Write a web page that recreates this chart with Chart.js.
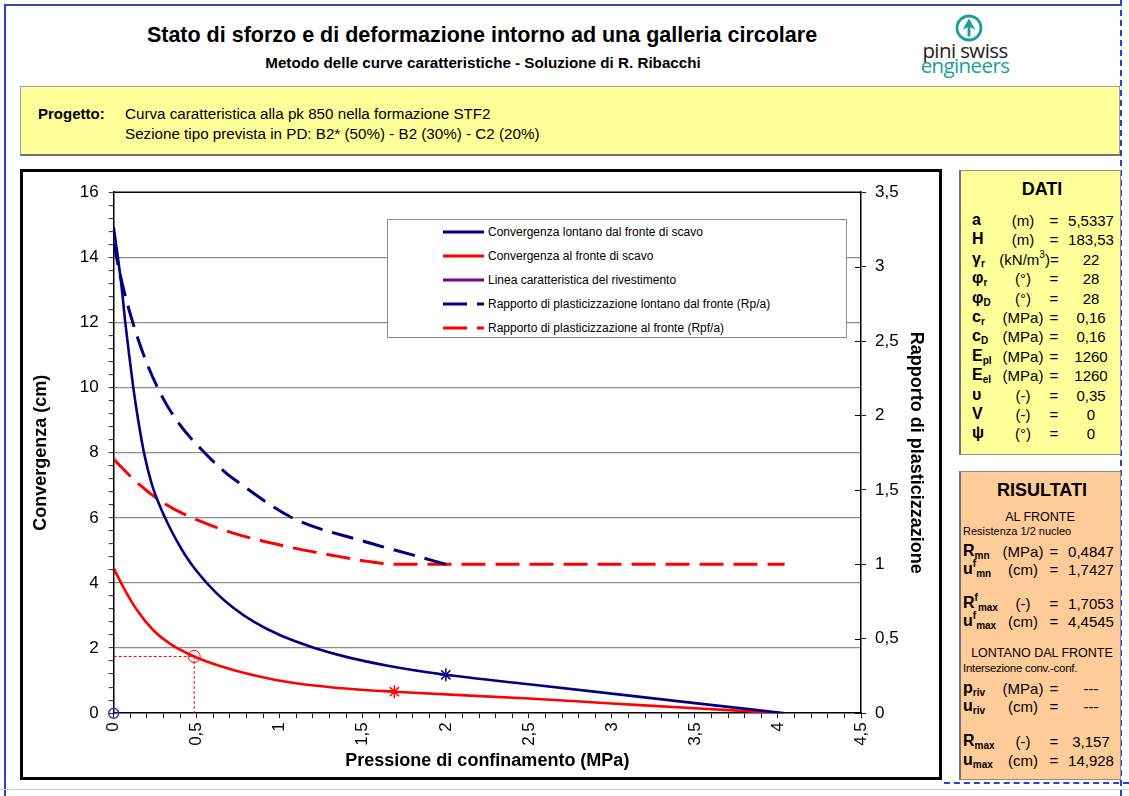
<!DOCTYPE html>
<html><head><meta charset="utf-8">
<script src="https://cdn.jsdelivr.net/npm/chart.js@4.4.1/dist/chart.umd.min.js"></script>
<style>
html,body{margin:0;padding:0;background:#fff;}
body{width:1129px;height:796px;position:relative;overflow:hidden;font-family:"Liberation Sans",Arial,Helvetica,sans-serif;color:#000;}
.a{position:absolute;white-space:nowrap;}
.c{transform:translate(-50%,-50%);}
.l{transform:translateY(-50%);}
.box{position:absolute;box-sizing:border-box;}
sub{font-size:10px;vertical-align:-3px;line-height:0;}
sup{font-size:10px;vertical-align:7px;line-height:0;}
.sym{font-weight:bold;font-size:16px;}
.v{font-size:15px;}
</style></head><body>

<!-- page frame -->
<div class="box" style="left:5px;top:4px;width:1116px;height:2px;background:#3b4a9a;"></div>
<div class="box" style="left:4px;top:4px;width:2px;height:792px;background:#2b3fd0;"></div>
<div class="box" style="left:1120px;top:0;width:0;height:796px;border-left:2px dashed #2b3fd0;"></div>
<div class="box" style="left:944px;top:782px;width:185px;height:0;border-top:2px dashed #2b3fd0;"></div>
<div class="box" style="left:0;top:789px;width:1129px;height:1px;background:#d0d0d0;"></div>

<!-- titles -->
<div class="a c" style="left:482px;top:35px;font-size:21.5px;font-weight:bold;">Stato di sforzo e di deformazione intorno ad una galleria circolare</div>
<div class="a c" style="left:483px;top:62px;font-size:15.2px;font-weight:bold;">Metodo delle curve caratteristiche - Soluzione di R. Ribacchi</div>

<!-- logo -->
<svg class="a" style="left:953px;top:13px;" width="32" height="32" viewBox="0 0 32 32">
  <circle cx="16" cy="15" r="12" fill="none" stroke="#1a9e9c" stroke-width="2.8"/>
  <path d="M16 5.5 L22.5 17 L17.4 14.3 L17.4 23.5 L14.6 23.5 L14.6 14.3 L9.5 17 Z" fill="#1a9e9c"/>
</svg>
<div class="a c" style="left:965px;top:50px;font-family:'Open Sans',sans-serif;font-size:20.5px;color:#222;letter-spacing:-0.6px;">pini swiss</div>
<div class="a c" style="left:965px;top:65px;font-family:'Open Sans',sans-serif;font-size:20.5px;color:#1a9e9c;letter-spacing:-0.6px;">engineers</div>

<!-- project box -->
<div class="box" style="left:20px;top:86px;width:1100px;height:70px;background:#ffff99;border:1px solid #a0a0a0;border-bottom:2px solid #707070;"></div>
<div class="a l" style="left:38px;top:113px;font-size:15px;font-weight:bold;">Progetto:</div>
<div class="a l" style="left:125px;top:113px;font-size:15.2px;">Curva caratteristica alla pk 850 nella formazione STF2</div>
<div class="a l" style="left:125px;top:133px;font-size:15.2px;">Sezione tipo prevista in PD: B2* (50%) - B2 (30%) - C2 (20%)</div>

<!-- chart box -->
<div class="box" style="left:20px;top:169px;width:922px;height:611px;border:3px solid #000;background:#fff;"></div>
<canvas id="chart" width="916" height="605" style="position:absolute;left:23px;top:172px;"></canvas>
<div id="legend" class="box" style="left:387px;top:219px;width:460px;height:119px;background:#fff;border:1px solid #8c8c8c;"></div>

<!-- DATI -->
<div class="box" style="left:959px;top:170px;width:162px;height:285px;background:#ffff99;border:1px solid #8c8c8c;border-left:2px solid #707070;"></div>
<div class="a c" style="left:1042px;top:189px;font-size:18px;font-weight:bold;">DATI</div>
<div id="dati"></div>

<!-- RISULTATI -->
<div class="box" style="left:959px;top:471px;width:162px;height:309px;background:#ffcc99;border:1px solid #8c8c8c;border-left:2px solid #707070;"></div>
<div class="a c" style="left:1042px;top:490px;font-size:18px;font-weight:bold;">RISULTATI</div>
<div class="a c" style="left:1040px;top:517px;font-size:12.5px;">AL FRONTE</div>
<div class="a l" style="left:963px;top:531px;font-size:11px;">Resistenza 1/2 nucleo</div>
<div class="a c" style="left:1042px;top:653px;font-size:12.5px;">LONTANO DAL FRONTE</div>
<div class="a l" style="left:963px;top:668px;font-size:11.5px;letter-spacing:-0.3px;">Intersezione conv.-conf.</div>
<div id="ris"></div>

<script>
// ---------------- DATA ----------------
// Convergenza lontano dal fronte di scavo  (x: MPa, y: cm)
const pressFar = [0, 0.048, 0.068, 0.092, 0.118, 0.148, 0.184, 0.228, 0.28, 0.33, 0.38, 0.43, 0.5, 0.62, 0.72, 0.84, 1.0, 1.2, 1.4, 1.65, 2.0, 2.5, 3.0, 3.5, 4.04];
const convFar  = [14.93, 13.08, 12.08, 11.04, 10.0, 8.98, 7.96, 7.06, 6.34, 5.78, 5.29, 4.86, 4.36, 3.68, 3.24, 2.82, 2.40, 2.02, 1.73, 1.46, 1.18, 0.89, 0.60, 0.31, 0];
// Convergenza al fronte di scavo
const pressFront = [0, 0.06, 0.14, 0.24, 0.34, 0.4847, 0.64, 0.8, 1.04, 1.32, 1.69, 2.5, 3.0, 3.5, 4.04];
const convFront  = [4.45, 3.85, 3.17, 2.54, 2.13, 1.7427, 1.45, 1.22, 0.965, 0.79, 0.66, 0.45, 0.30, 0.15, 0];
// Linea caratteristica del rivestimento (not drawn in the reference)
const pressLining = [];
const convLining  = [];
// Rapporto di plasticizzazione lontano dal fronte (Rp/a) - right axis
const pressRpFar = [0, 0.04, 0.08, 0.13, 0.2, 0.29, 0.39, 0.53, 0.67, 0.74, 1.08, 1.49, 1.81, 2.0];
const ratioFar   = [3.157, 2.94, 2.76, 2.57, 2.35, 2.13, 1.95, 1.77, 1.62, 1.56, 1.31, 1.16, 1.06, 1.0];
// Rapporto di plasticizzazione al fronte (Rpf/a) - right axis
const pressRpFront = [0, 0.15, 0.31, 0.51, 0.72, 1.02, 1.32, 1.53, 1.69, 4.04];
const ratioFront   = [1.7053, 1.54, 1.405, 1.295, 1.21, 1.125, 1.06, 1.02, 1.0, 1.0];
// Resistenza 1/2 nucleo guide (dotted) and markers
const guideP = [0, 0.4847, 0.4847];
const guideU = [1.7427, 1.7427, 0];
const nucleoP = [0.4847], nucleoU = [1.7427];
const starFarP = [2.0],  starFarU = [1.18];
const starFrontP = [1.69], starFrontU = [0.66];
const originP = [0], originU = [0];
// Axes
const xRange = [0, 4.5], xMinorStep = 0.1, xMajorStep = 0.5;
const yRange = [0, 16], yMinorStep = 0.4, yMajorStep = 2;
const y2Range = [0, 3.5], y2Step = 0.5;

// Panel texts
const datiRows = [
  ['a','(m)','=','5,5337'],
  ['H','(m)','=','183,53'],
  ['γ<sub>r</sub>','(kN/m<sup>3</sup>)=','','22'],
  ['φ<sub>r</sub>','(°)','=','28'],
  ['φ<sub>D</sub>','(°)','=','28'],
  ['c<sub>r</sub>','(MPa)','=','0,16'],
  ['c<sub>D</sub>','(MPa)','=','0,16'],
  ['E<sub>pl</sub>','(MPa)','=','1260'],
  ['E<sub>el</sub>','(MPa)','=','1260'],
  ['υ','(-)','=','0,35'],
  ['V','(-)','=','0'],
  ['ψ','(°)','=','0']
];
const risRows = [
  [551,'R<sub>mn</sub>','(MPa)','=','0,4847'],
  [569,'u<sup>f</sup><sub>mn</sub>','(cm)','=','1,7427'],
  [603,'R<sup>f</sup><sub>max</sub>','(-)','=','1,7053'],
  [621,'u<sup>f</sup><sub>max</sub>','(cm)','=','4,4545'],
  [688,'p<sub>riv</sub>','(MPa)','=','---'],
  [706,'u<sub>riv</sub>','(cm)','=','---'],
  [741,'R<sub>max</sub>','(-)','=','3,157'],
  [760,'u<sub>max</sub>','(cm)','=','14,928']
];

// ---------------- panels ----------------
function row(parent, y, symX, sym, unit, eq, val, unitX) {
  parent.insertAdjacentHTML('beforeend',
    `<div class="a l sym" style="left:${symX}px;top:${y}px;">${sym}</div>` +
    `<div class="a c v" style="left:${unitX}px;top:${y}px;">${unit}</div>` +
    (eq ? `<div class="a c v" style="left:1054px;top:${y}px;">${eq}</div>` : '') +
    `<div class="a c v" style="left:1091px;top:${y}px;">${val}</div>`);
}
const datiEl = document.getElementById('dati');
datiRows.forEach((r, i) => row(datiEl, 220 + i * 19.4, 972, r[0], r[1], r[2], r[3], r[2] ? 1023 : 1029));
const risEl = document.getElementById('ris');
risRows.forEach(r => row(risEl, r[0], 963, r[1], r[2], r[3], r[4], 1023));

// ---------------- chart ----------------
const zip = (xs, ys) => xs.map((x, i) => ({x: x, y: ys[i]}));
const isMult = (v, s) => Math.abs(v / s - Math.round(v / s)) < 1e-6;
const fmt = v => String(Math.round(v * 100) / 100).replace('.', ',');
const NAVY = '#000080', RED = '#ff0000', PURPLE = '#800080';

const datasets = [
  {label: 'Convergenza lontano dal fronte di scavo', data: zip(pressFar, convFar), borderColor: NAVY, borderWidth: 2.6, yAxisID: 'y', inLegend: true},
  {label: 'Convergenza al fronte di scavo', data: zip(pressFront, convFront), borderColor: RED, borderWidth: 2.6, yAxisID: 'y', inLegend: true},
  {label: 'Linea caratteristica del rivestimento', data: zip(pressLining, convLining), borderColor: PURPLE, borderWidth: 2.6, yAxisID: 'y', inLegend: true},
  {label: 'Rapporto di plasticizzazione lontano dal fronte (Rp/a)', data: zip(pressRpFar, ratioFar), borderColor: NAVY, borderWidth: 3, borderDash: [22, 10], yAxisID: 'y2', inLegend: true},
  {label: 'Rapporto di plasticizzazione al fronte (Rpf/a)', data: zip(pressRpFront, ratioFront), borderColor: RED, borderWidth: 3, borderDash: [24, 10], yAxisID: 'y2', inLegend: true},
  {label: 'guide', data: zip(guideP, guideU), borderColor: RED, borderWidth: 1, borderDash: [3, 2], yAxisID: 'y', cubicInterpolationMode: 'default', tension: 0},
  {label: 'nucleo', data: zip(nucleoP, nucleoU), showLine: false, pointRadius: 6, pointStyle: 'circle', pointBorderColor: RED, pointBackgroundColor: 'rgba(0,0,0,0)', pointBorderWidth: 1, yAxisID: 'y', clip: false},
  {label: 'starFar', data: zip(starFarP, starFarU), showLine: false, pointRadius: 6.5, pointStyle: 'star', pointBorderColor: NAVY, pointBorderWidth: 1.5, yAxisID: 'y', clip: false},
  {label: 'starFront', data: zip(starFrontP, starFrontU), showLine: false, pointRadius: 6.5, pointStyle: 'star', pointBorderColor: RED, pointBorderWidth: 1.5, yAxisID: 'y', clip: false},
  {label: 'origin', data: zip(originP, originU), showLine: false, pointRadius: 5, pointStyle: 'circle', pointBorderColor: '#3333cc', pointBackgroundColor: 'rgba(0,0,0,0)', pointBorderWidth: 1.5, yAxisID: 'y', clip: false}
];
datasets.forEach(d => {
  if (d.pointRadius === undefined) d.pointRadius = 0;
  d.pointHoverRadius = 0;
  d.fill = false;
  if (!d.cubicInterpolationMode) d.cubicInterpolationMode = 'monotone';
  d.borderCapStyle = 'butt';
});

const frame = {
  id: 'frame',
  afterDraw(chart) {
    const {ctx, chartArea: a} = chart;
    const y2 = chart.scales.y2;
    ctx.save();
    ctx.strokeStyle = '#000';
    ctx.lineWidth = 1.5;
    ctx.beginPath();
    ctx.moveTo(a.left, a.top); ctx.lineTo(a.right, a.top);
    ctx.stroke();
    ctx.lineWidth = 1;
    ctx.beginPath();
    y2.ticks.forEach(t => {
      const p = Math.round(y2.getPixelForValue(t.value)) + 0.5;
      ctx.moveTo(a.right - 6, p); ctx.lineTo(a.right, p);
    });
    ctx.stroke();
    ctx.restore();
  }
};

const tickFont = {family: "'Liberation Sans', Arial, sans-serif", size: 17};
const titleFont = {family: "'Liberation Sans', Arial, sans-serif", size: 18, weight: 'bold'};

const chart = new Chart(document.getElementById('chart'), {
  type: 'line',
  data: {datasets: datasets},
  options: {
    responsive: false,
    animation: false,
    events: [],
    layout: {padding: {top: 18.7, left: 0, right: 0, bottom: 0}},
    plugins: {legend: {display: false}, tooltip: {enabled: false}},
    scales: {
      x: {
        type: 'linear', min: xRange[0], max: xRange[1], position: 'bottom',
        afterFit: s => { s.height = 63.8; },
        ticks: {stepSize: xMinorStep, autoSkip: false, minRotation: 90, maxRotation: 90, padding: 4, color: '#000', font: tickFont,
          callback: v => isMult(v, xMajorStep) ? fmt(v) : ''},
        grid: {drawOnChartArea: false, drawTicks: true, tickLength: 5, tickColor: '#222', tickWidth: 1},
        border: {color: '#000', width: 1.5},
        title: {display: true, text: 'Pressione di confinamento (MPa)', color: '#000', font: titleFont, padding: {top: 0, bottom: 5}}
      },
      y: {
        type: 'linear', min: yRange[0], max: yRange[1], position: 'left',
        afterFit: s => { s.width = 90.7; },
        ticks: {stepSize: yMinorStep, autoSkip: false, padding: 10, color: '#000', font: tickFont,
          callback: v => isMult(v, yMajorStep) ? fmt(v) : ''},
        grid: {
          color: c => (isMult(c.tick.value, yMajorStep) && c.tick.value > 0 && c.tick.value < 16) ? '#8c8c8c' : 'rgba(0,0,0,0)',
          lineWidth: 1.3, tickLength: 5, tickColor: '#222', tickWidth: 1
        },
        border: {color: '#000', width: 1.5},
        title: {display: true, text: 'Convergenza (cm)', color: '#000', font: titleFont, padding: {top: 7}}
      },
      y2: {
        type: 'linear', min: y2Range[0], max: y2Range[1], position: 'right',
        afterFit: s => { s.width = 78; },
        ticks: {stepSize: y2Step, autoSkip: false, padding: 9, color: '#000', font: tickFont, callback: v => fmt(v)},
        grid: {drawOnChartArea: false, tickLength: 5, tickColor: '#222', tickWidth: 1},
        border: {color: '#000', width: 1.5},
        title: {display: true, text: 'Rapporto di plasticizzazione', color: '#000', font: titleFont, padding: {top: 12}}
      }
    }
  },
  plugins: [frame]
});

// ---------------- legend built from chart datasets ----------------
const lg = document.getElementById('legend');
chart.data.datasets.filter(d => d.inLegend).forEach((d, i) => {
  const y = 12 + i * 23.9;
  const dash = d.borderDash ? 'stroke-dasharray="24 10"' : '';
  lg.insertAdjacentHTML('beforeend',
    `<svg class="a" style="left:55px;top:${y - 3}px;" width="42" height="6"><line x1="0" y1="3" x2="41" y2="3" stroke="${d.borderColor}" stroke-width="3" ${dash}/></svg>` +
    `<div class="a l" style="left:100px;top:${y}px;font-size:12px;">${d.label}</div>`);
});
</script>
</body></html>
